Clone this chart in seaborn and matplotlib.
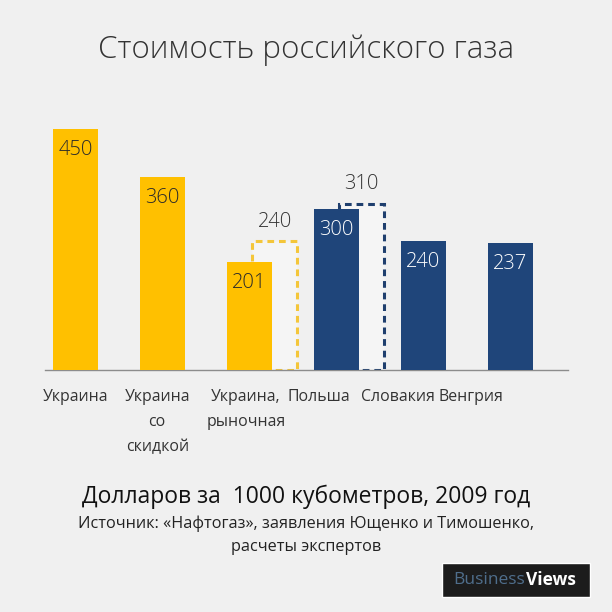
import matplotlib
matplotlib.use("Agg")
import matplotlib.pyplot as plt
from matplotlib.patches import Rectangle
import seaborn as sns
import pandas as pd

# data
countries = ["Украина", "Украина\nсо\nскидкой", "Украина,\nрыночная", "Польша", "Словакия", "Венгрия"]
prices = [450, 360, 201, 300, 240, 237]
groups = ["ua", "ua", "ua", "eu", "eu", "eu"]
alt_idx = [2, 3]
alt_prices = [240, 310]

YELLOW = "#FFC000"
BLUE = "#1F457A"
BG = "#F0F0F0"

sns.set_style("white")
plt.rcParams["font.family"] = ["Open Sans", "DejaVu Sans"]

df = pd.DataFrame({"country": countries, "price": prices, "group": groups})

fig = plt.figure(figsize=(6.12, 6.12), dpi=100, facecolor=BG)
ax = fig.add_axes([0.0735, 0.3954, 0.8546, 0.4395])
ax.set_facecolor(BG)

# dashed "alternative" bars behind
alt_colors = ["#F4C63A", "#1F3F6E"]
for i, v, c in zip(alt_idx, alt_prices, alt_colors):
    ax.bar(i + 0.29, v, width=0.52, facecolor="#F5F5F5", edgecolor=c,
           linestyle=(0, (2.2, 1.6)), linewidth=2.2, zorder=1)
    ax.annotate(str(v), (i + 0.29, v), xytext=(0, 14), textcoords="offset points",
                ha="center", va="center", fontsize=14.5, color="#333333",
                fontweight="light")

sns.barplot(data=df, x="country", y="price", hue="group",
            palette={"ua": YELLOW, "eu": BLUE}, dodge=False, width=0.517,
            legend=False, ax=ax, zorder=3, saturation=1, linewidth=0)

for i, (v, g) in enumerate(zip(prices, groups)):
    ax.annotate(str(v), (i, v), xytext=(0, -15), textcoords="offset points",
                ha="center", va="center", fontsize=14.5, fontweight="light",
                color="#2A2A2A" if g == "ua" else "white", zorder=4)

ax.set_xlim(-0.35, 5.66)
ax.set_ylim(0, 502)
label_shift = [0, -0.06, -0.04, -0.2, -0.29, -0.45]
ax.set_xticks([i + s for i, s in enumerate(label_shift)])
ax.set_xticklabels(countries, fontsize=11.4, color="#333333", linespacing=1.75)
ax.tick_params(axis="x", length=0, pad=14)
ax.set_yticks([])
ax.set_xlabel("")
ax.set_ylabel("")
for s in ["top", "left", "right"]:
    ax.spines[s].set_visible(False)
ax.spines["bottom"].set_color("#8C8C8C")
ax.spines["bottom"].set_linewidth(1)

fig.text(0.5, 1 - 50 / 612, "Стоимость российского газа", ha="center", va="center",
         fontsize=22.5, color="#333333", fontweight="light")
fig.text(0.5, 1 - 497 / 612, "Долларов за  1000 кубометров, 2009 год", ha="center",
         va="center", fontsize=16.5, color="#111111")
fig.text(0.5, 1 - 535 / 612, "Источник: «Нафтогаз», заявления Ющенко и Тимошенко,\nрасчеты экспертов",
         ha="center", va="center", fontsize=11.7, color="#222222", linespacing=1.55)

# logo
fig.patches.append(Rectangle((442 / 612, 15 / 612), 148 / 612, 34 / 612,
                             transform=fig.transFigure, facecolor="#1C1C1C", zorder=0))
fig.text(453 / 612, 1 - 580 / 612, "Business", ha="left", va="center",
         fontsize=12.5, color="#4F6E8C")
fig.text(526 / 612, 1 - 580 / 612, "Views", ha="left", va="center",
         fontsize=12.5, color="white", fontweight="bold")

fig.savefig("out.png", dpi=100, facecolor=BG)
